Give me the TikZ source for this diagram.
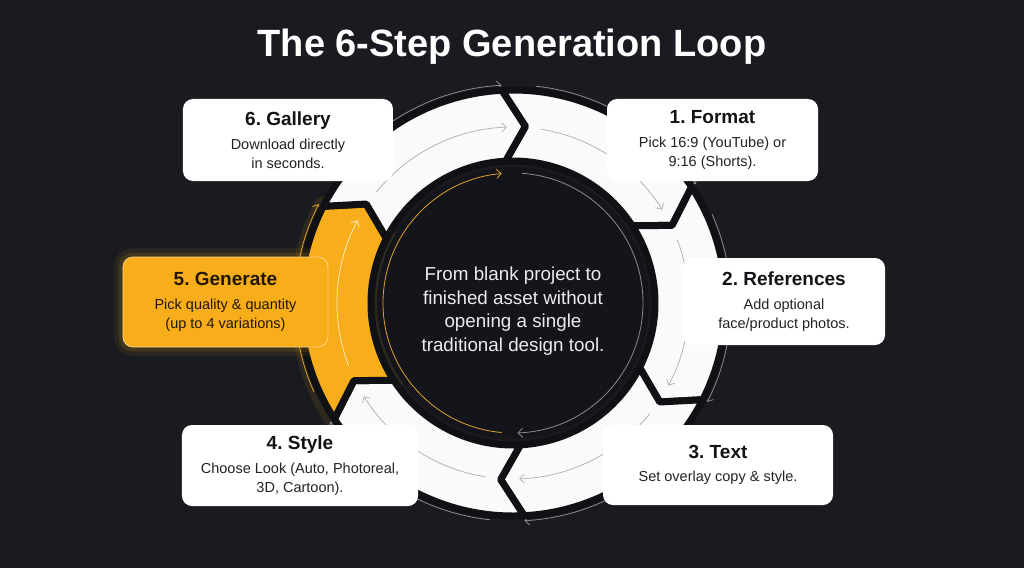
\documentclass[tikz,border=0pt]{standalone}
\usepackage{fontspec}
\setmainfont{Liberation Sans}
\usetikzlibrary{arrows.meta}

\definecolor{bgdark}{HTML}{1A1B20}
\definecolor{gapdark}{HTML}{101115}
\definecolor{coredark}{HTML}{14151A}
\definecolor{segwhite}{HTML}{FAFAFA}
\definecolor{segorange}{HTML}{F8AE1B}
\definecolor{arcgray}{HTML}{B4B5B9}
\definecolor{rimgray}{HTML}{8A8C93}
\definecolor{arcorange}{HTML}{E0A22A}
\definecolor{inktitle}{HTML}{121316}
\definecolor{inkbody}{HTML}{222327}
\definecolor{inkorange}{HTML}{221700}

\tikzset{
  stepbox/.style={fill=white, rounded corners=10pt, align=center, inner sep=0pt,
    text=inkbody, font=\fontsize{14.5}{18.7}\selectfont},
  hotbox/.style={stepbox, fill=segorange, draw=segorange!55!white, line width=0.8pt, text=inkorange,
    preaction={draw=segorange, draw opacity=0.07, line width=18pt},
    preaction={draw=segorange, draw opacity=0.12, line width=9pt}},
  flowtip/.style={-{Straight Barb[length=4.5pt,width=9pt]}},
}
\newcommand{\steptitle}[1]{{\fontsize{19}{22}\selectfont\bfseries\color{inktitle}#1}\\[5pt]}

\begin{document}
\frenchspacing
\begin{tikzpicture}[x=1pt,y=1pt]

    \fill[bgdark] (-513,-265) rectangle (511,303);

    % outer rim arcs
    \foreach \a/\b/\col in {90/30/rimgray, 30/-30/rimgray, -30/-90/rimgray, -90/-150/rimgray, 210/150/arcorange, 150/90/rimgray}
        \draw[\col, line width=0.8pt, flowtip] ({\a-6}:218pt) arc[start angle={\a-6}, end angle={\b+3}, radius=218pt];

    % glow of the active step
    \draw[segorange, draw opacity=0.09, line width=20pt, line join=round]
        (213:213pt) arc[start angle=213, end angle=153, radius=213pt] -- (146:177pt) -- (153:142pt)
        arc[start angle=153, end angle=213, radius=142pt] -- (206:177pt) -- cycle;

    % ring of six chevrons
    \foreach \a/\b/\col in {90/30/segwhite, 30/-30/segwhite, -30/-90/segwhite, -90/-150/segwhite, 210/150/segorange, 150/90/segwhite}
        \filldraw[fill=\col, draw=gapdark, line width=7pt, line join=round]
            ({\a+3}:213pt) arc[start angle={\a+3}, end angle={\b+3}, radius=213pt]
            -- ({\b-4}:177pt) -- ({\b+3}:142pt)
            arc[start angle={\b+3}, end angle={\a+3}, radius=142pt]
            -- ({\a-4}:177pt) -- cycle;

    \foreach \a/\b/\col in {90/30/arcgray, 30/-30/arcgray, -30/-90/arcgray, -90/-150/arcgray, 210/150/segorange!30!white, 150/90/arcgray}
        \draw[\col, line width=0.8pt, flowtip] ({\a-9}:176pt) arc[start angle={\a-9}, end angle={\b+2}, radius=176pt];

    % centre
    \fill[coredark] (0,0) circle (136pt);
    \draw[rimgray, line width=0.8pt, flowtip] (86:130pt) arc[start angle=86, end angle=-88, radius=130pt];
    \draw[arcorange, line width=0.8pt, flowtip] (265:130pt) arc[start angle=265, end angle=95, radius=130pt];

    \node[text=white!92!black, align=center, font=\fontsize{18.8}{23.7}\selectfont] (core) at (0,-8)
        {From blank project to\\finished asset without\\opening a single\\traditional design tool.};

    % the six steps
    \node[stepbox, minimum width=211pt, minimum height=82pt] (format) at (199.5,163)
        {\steptitle{1. Format}Pick 16:9 (YouTube) or\\9:16 (Shorts).};
    \node[stepbox, minimum width=202pt, minimum height=87pt] (refs) at (271,1.5)
        {\steptitle{2. References}Add optional\\face/product photos.};
    \node[stepbox, minimum width=230pt, minimum height=80pt] (text) at (205,-162)
        {\steptitle{3. Text}Set overlay copy \& style.};
    \node[stepbox, minimum width=236pt, minimum height=81pt] (style) at (-213,-162.5)
        {\steptitle{4. Style}Choose Look (Auto, Photoreal,\\3D, Cartoon).};
    \node[hotbox, minimum width=205pt, minimum height=90pt] (generate) at (-287.5,1)
        {{\fontsize{19}{22}\selectfont\bfseries 5. Generate}\\[5pt]Pick quality \& quantity\\(up to 4 variations)};
    \node[stepbox, minimum width=210pt, minimum height=82pt] (gallery) at (-225,163)
        {\steptitle{6. Gallery}Download directly\\in seconds.};

    \node[text=white, font=\bfseries\fontsize{38}{41}\selectfont, anchor=base] (title) at (-1,246)
        {The 6-Step Generation Loop};

\end{tikzpicture}
\end{document}
